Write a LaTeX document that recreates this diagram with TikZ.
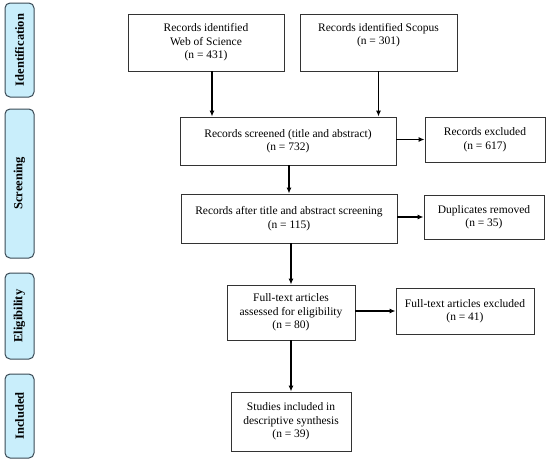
\documentclass[tikz,border=0pt]{standalone}
\usepackage{fontspec}
\setmainfont{Liberation Serif}
\usetikzlibrary{arrows.meta}
\definecolor{sidefill}{HTML}{C9EEFB}
\definecolor{sidedraw}{HTML}{3A4A55}
\definecolor{boxdraw}{HTML}{333333}
\begin{document}
\begin{tikzpicture}[x=1pt,y=-1pt,
  box/.style={draw=boxdraw, line width=0.9pt, align=center, inner sep=0pt,
    font=\fontsize{11.5}{13.5}\selectfont},
  side/.style={draw=sidedraw, line width=1pt, fill=sidefill, rounded corners=5pt,
    rotate=90, inner sep=0pt, font=\fontsize{12.5}{14}\selectfont\bfseries},
  arr/.style={line width=1.1pt, draw=black, -{Latex[length=6pt,width=5pt]}}]
\useasboundingbox (0,0) rectangle (550,464);
% side labels
\node[side, minimum width=94pt, minimum height=29pt] (sid) at (19.5,50) {Identification};
\node[side, minimum width=149pt, minimum height=29pt] (sscr) at (19.5,183.5) {Screening};
\node[side, minimum width=86pt, minimum height=29pt] (selig) at (19.5,316) {Eligibility};
\node[side, minimum width=84pt, minimum height=29pt] (sinc) at (19.5,416) {Included};
% boxes
\node[box, minimum width=156pt, minimum height=57pt] (wos) at (206,42.5)
  {Records identified\\Web of Science\\(n = 431)};
\node[box, minimum width=157pt, minimum height=57pt] (scop) at (378.5,42.5)
  {Records identified Scopus\\(n = 301)\\\strut};
\node[box, minimum width=216pt, minimum height=48pt] (scr) at (288,141)
  {Records screened (title and abstract)\\(n = 732)};
\node[box, minimum width=120pt, minimum height=45pt] (excl) at (485,139.5)
  {Records excluded\\(n = 617)};
\node[box, minimum width=216pt, minimum height=49pt] (after) at (289,218.5)
  {Records after title and abstract screening\\(n = 115)};
\node[box, minimum width=120pt, minimum height=44pt] (dup) at (484,217)
  {Duplicates removed\\(n = 35)};
\node[box, minimum width=128pt, minimum height=55pt] (ft) at (291,312.5)
  {Full-text articles\\assessed for eligibility\\(n = 80)};
\node[box, minimum width=138pt, minimum height=46pt] (ftx) at (465,311)
  {Full-text articles excluded\\(n = 41)};
\node[box, minimum width=120pt, minimum height=59pt] (stud) at (291,421.5)
  {Studies included in\\descriptive synthesis\\(n = 39)};
% arrows
\draw[arr] ([xshift=6pt]wos.south) -- ([xshift=6pt]wos.south |- scr.north);
\draw[arr] (scop.south) -- (scop.south |- scr.north);
\draw[arr] (scr.east |- excl.west) -- (excl.west);
\draw[arr] (scr.south -| after.north) -- (after.north);
\draw[arr] (after.east |- dup.west) -- (dup.west);
\draw[arr] (after.south -| ft.north) -- (ft.north);
\draw[arr] (ft.east |- ftx.west) -- (ftx.west);
\draw[arr] (ft.south) -- (stud.north);
\end{tikzpicture}
\end{document}
